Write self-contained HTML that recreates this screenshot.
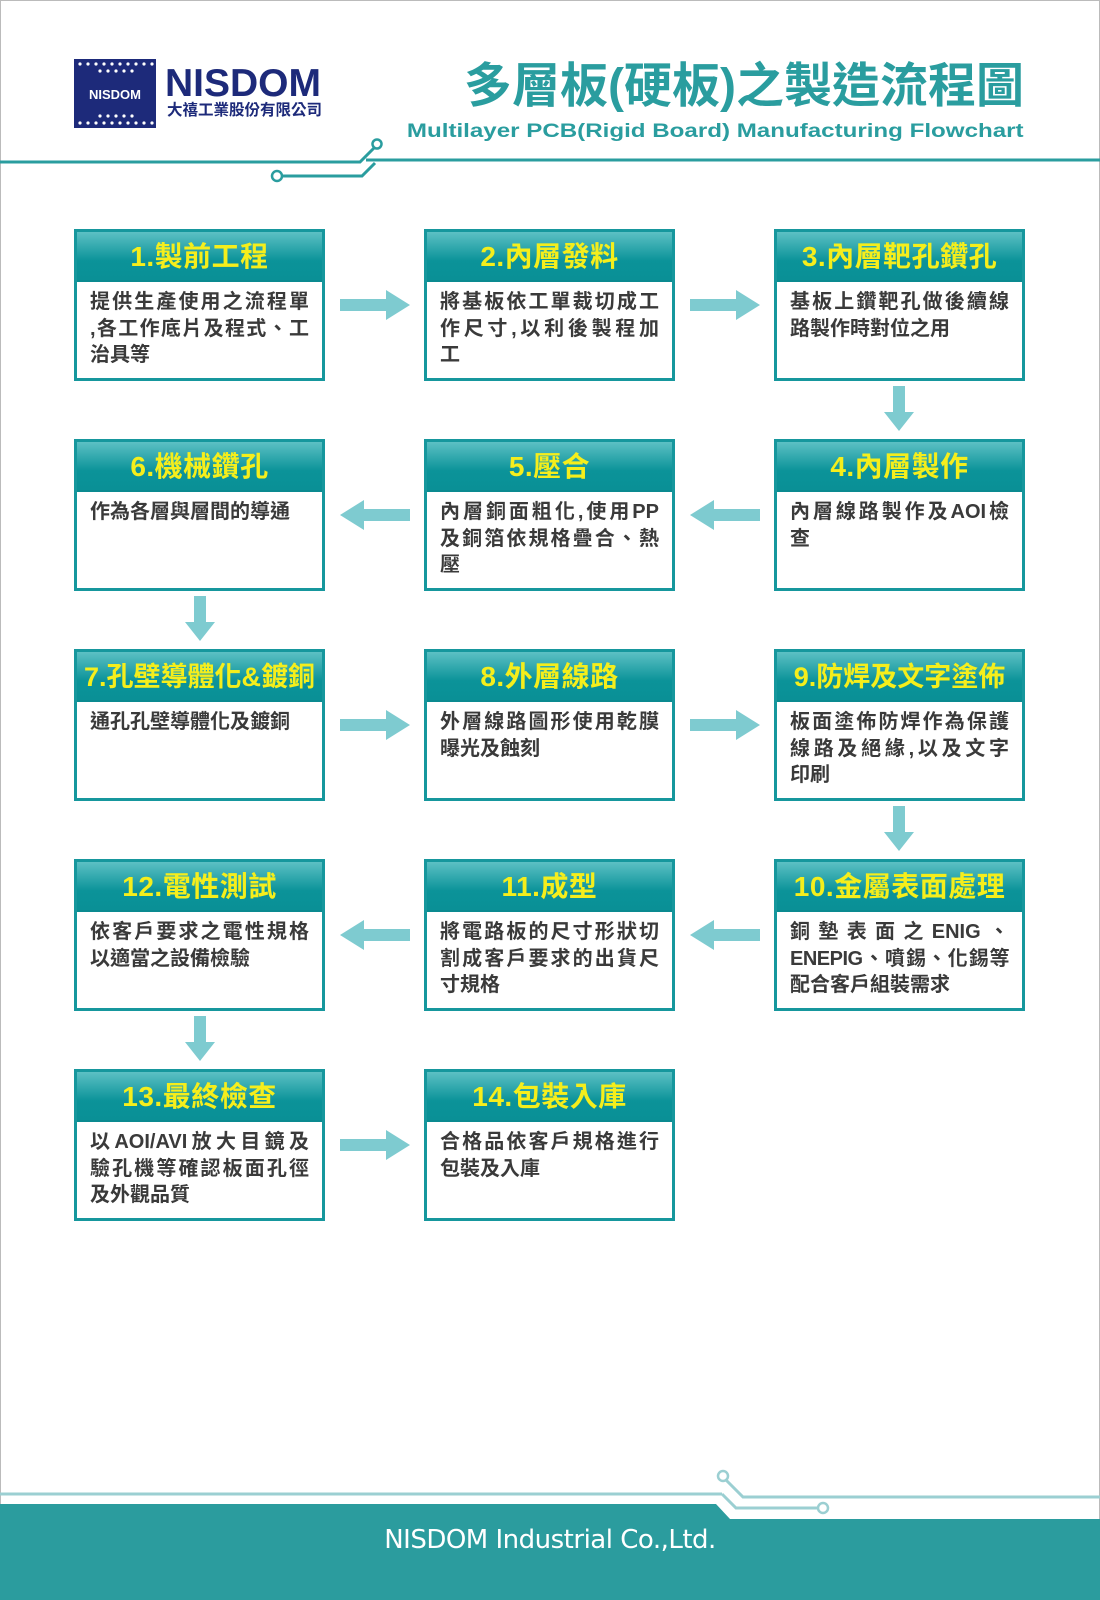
<!DOCTYPE html>
<html><head><meta charset="utf-8"><style>
body{margin:0;width:1100px;height:1600px;position:relative;background:#fff;overflow:hidden;font-family:"Liberation Sans","Noto Sans CJK TC",sans-serif;}
.frame{position:absolute;left:0;top:0;width:1098px;height:1598px;border:1px solid #bbb;}
.box{position:absolute;width:245px;height:146px;border:3px solid #16979d;background:#fff;}
.hd{height:48px;background:linear-gradient(#5cc0c4,#0b9399 60%,#0a9096);color:#f5ee1c;font-weight:bold;font-size:28px;text-align:center;line-height:50px;letter-spacing:0.5px;border-bottom:2px solid #0a8a90;white-space:nowrap;}
.bd{padding:7px 13px 0 13px;font-size:20px;font-weight:bold;color:#3a3a3a;line-height:26.5px;}
.bd div{white-space:nowrap;}
.bd div.f{text-align:justify;text-align-last:justify;}
</style></head><body>
<div class="frame"></div>
<svg style="position:absolute;left:74px;top:59px" width="82" height="69">
<rect width="82" height="69" fill="#1d2a7a"/>
<g fill="#fff">
<circle cx="6" cy="5" r="1.6"/><circle cx="14" cy="5" r="1.6"/><circle cx="22" cy="5" r="1.6"/><circle cx="30" cy="5" r="1.6"/><circle cx="38" cy="5" r="1.6"/><circle cx="46" cy="5" r="1.6"/><circle cx="54" cy="5" r="1.6"/><circle cx="62" cy="5" r="1.6"/><circle cx="70" cy="5" r="1.6"/><circle cx="78" cy="5" r="1.6"/>
<circle cx="26" cy="12" r="1.6"/><circle cx="34" cy="12" r="1.6"/><circle cx="42" cy="12" r="1.6"/><circle cx="50" cy="12" r="1.6"/><circle cx="58" cy="12" r="1.6"/>
<circle cx="6" cy="64" r="1.6"/><circle cx="14" cy="64" r="1.6"/><circle cx="22" cy="64" r="1.6"/><circle cx="30" cy="64" r="1.6"/><circle cx="38" cy="64" r="1.6"/><circle cx="46" cy="64" r="1.6"/><circle cx="54" cy="64" r="1.6"/><circle cx="62" cy="64" r="1.6"/><circle cx="70" cy="64" r="1.6"/><circle cx="78" cy="64" r="1.6"/>
<circle cx="26" cy="57" r="1.6"/><circle cx="34" cy="57" r="1.6"/><circle cx="42" cy="57" r="1.6"/><circle cx="50" cy="57" r="1.6"/><circle cx="58" cy="57" r="1.6"/>
</g>
<text x="41" y="40" fill="#fff" font-size="13" font-weight="bold" text-anchor="middle" font-family="Liberation Sans">NISDOM</text>
</svg>
<div style="position:absolute;left:165px;top:64px;font-size:39px;font-weight:bold;color:#1d2a7a;line-height:40px">NISDOM</div>
<div style="position:absolute;left:167px;top:102px;font-size:15.5px;font-weight:bold;color:#1d2a7a;line-height:17px">大禧工業股份有限公司</div>
<div style="position:absolute;right:76px;top:58px;font-size:48px;font-weight:bold;color:#2a9d9f;line-height:58px">多層板(硬板)之製造流程圖</div>
<div style="position:absolute;right:76px;top:121px;font-size:19px;font-weight:bold;color:#2a9d9f;line-height:22px;transform:scaleX(1.27);transform-origin:right center;white-space:nowrap">Multilayer PCB(Rigid Board) Manufacturing Flowchart</div>
<svg style="position:absolute;left:0;top:130px" width="1100" height="60">
<polyline points="0,32 360,32 374,18" fill="none" stroke="#2a9d9f" stroke-width="3"/>
<polyline points="366,30 376,30 1100,30" fill="none" stroke="#2a9d9f" stroke-width="3"/>
<circle cx="377" cy="14" r="4.5" fill="#fff" stroke="#2a9d9f" stroke-width="2.5"/>
<polyline points="282,46 362,46 375,33" fill="none" stroke="#2a9d9f" stroke-width="3"/>
<circle cx="277" cy="46" r="5" fill="#fff" stroke="#2a9d9f" stroke-width="2.5"/>
</svg>

<div class="box" style="left:74px;top:229px"><div class="hd">1.製前工程</div><div class="bd"><div class="f">提供生產使用之流程單</div><div class="f">,各工作底片及程式、工</div><div>治具等</div></div></div>
<div class="box" style="left:424px;top:229px"><div class="hd">2.內層發料</div><div class="bd"><div class="f">將基板依工單裁切成工</div><div class="f">作尺寸,以利後製程加</div><div>工</div></div></div>
<div class="box" style="left:774px;top:229px"><div class="hd">3.內層靶孔鑽孔</div><div class="bd"><div class="f">基板上鑽靶孔做後續線</div><div>路製作時對位之用</div></div></div>

<div class="box" style="left:74px;top:439px"><div class="hd">6.機械鑽孔</div><div class="bd"><div>作為各層與層間的導通</div></div></div>
<div class="box" style="left:424px;top:439px"><div class="hd">5.壓合</div><div class="bd"><div class="f">內層銅面粗化,使用PP</div><div class="f">及銅箔依規格疊合、熱</div><div>壓</div></div></div>
<div class="box" style="left:774px;top:439px"><div class="hd">4.內層製作</div><div class="bd"><div class="f">內層線路製作及AOI檢</div><div>查</div></div></div>

<div class="box" style="left:74px;top:649px"><div class="hd" style="font-size:27px;letter-spacing:0">7.孔壁導體化&amp;鍍銅</div><div class="bd"><div>通孔孔壁導體化及鍍銅</div></div></div>
<div class="box" style="left:424px;top:649px"><div class="hd">8.外層線路</div><div class="bd"><div class="f">外層線路圖形使用乾膜</div><div>曝光及蝕刻</div></div></div>
<div class="box" style="left:774px;top:649px"><div class="hd" style="font-size:27px;letter-spacing:0">9.防焊及文字塗佈</div><div class="bd"><div class="f">板面塗佈防焊作為保護</div><div class="f">線路及絕緣,以及文字</div><div>印刷</div></div></div>

<div class="box" style="left:74px;top:859px"><div class="hd">12.電性測試</div><div class="bd"><div class="f">依客戶要求之電性規格</div><div>以適當之設備檢驗</div></div></div>
<div class="box" style="left:424px;top:859px"><div class="hd">11.成型</div><div class="bd"><div class="f">將電路板的尺寸形狀切</div><div class="f">割成客戶要求的出貨尺</div><div>寸規格</div></div></div>
<div class="box" style="left:774px;top:859px"><div class="hd">10.金屬表面處理</div><div class="bd"><div class="f">銅墊表面之ENIG、</div><div class="f" style="letter-spacing:-0.5px">ENEPIG、噴錫、化錫等</div><div>配合客戶組裝需求</div></div></div>

<div class="box" style="left:74px;top:1069px"><div class="hd">13.最終檢查</div><div class="bd"><div class="f">以AOI/AVI放大目鏡及</div><div class="f">驗孔機等確認板面孔徑</div><div>及外觀品質</div></div></div>
<div class="box" style="left:424px;top:1069px"><div class="hd">14.包裝入庫</div><div class="bd"><div class="f">合格品依客戶規格進行</div><div>包裝及入庫</div></div></div>

<svg style="position:absolute;left:0;top:0" width="1100" height="1600">
<defs>
<g id="ar"><polygon points="0,-6 46,-6 46,-15 70,0 46,15 46,6 0,6" fill="#7ecbd0"/></g>
<g id="av"><polygon points="-6,0 6,0 6,26 15,26 0,45 -15,26 -6,26" fill="#7ecbd0"/></g>
</defs>
<use href="#ar" transform="translate(340,305)"/>
<use href="#ar" transform="translate(690,305)"/>
<use href="#ar" transform="translate(410,515) scale(-1,1)"/>
<use href="#ar" transform="translate(760,515) scale(-1,1)"/>
<use href="#ar" transform="translate(340,725)"/>
<use href="#ar" transform="translate(690,725)"/>
<use href="#ar" transform="translate(410,935) scale(-1,1)"/>
<use href="#ar" transform="translate(760,935) scale(-1,1)"/>
<use href="#ar" transform="translate(340,1145)"/>
<use href="#av" transform="translate(899,386)"/>
<use href="#av" transform="translate(200,596)"/>
<use href="#av" transform="translate(899,806)"/>
<use href="#av" transform="translate(200,1016)"/>
<polygon points="0,1504 716,1504 730,1519 1100,1519 1100,1600 0,1600" fill="#2b9c9e"/>
<line x1="0" y1="1494" x2="722" y2="1494" stroke="#9bcfd2" stroke-width="3"/>
<polyline points="724,1478 743,1497 1100,1497" fill="none" stroke="#9bcfd2" stroke-width="3"/>
<circle cx="723" cy="1476" r="5" fill="#fff" stroke="#9bcfd2" stroke-width="2.5"/>
<polyline points="722,1494 736,1508 818,1508" fill="none" stroke="#9bcfd2" stroke-width="3"/>
<circle cx="823" cy="1508" r="5" fill="#fff" stroke="#9bcfd2" stroke-width="2.5"/>
<text x="550" y="1548" fill="#fff" font-size="26" text-anchor="middle" font-family="DejaVu Sans, Liberation Sans, sans-serif" letter-spacing="-0.5">NISDOM Industrial Co.,Ltd.</text>
</svg>
</body></html>
